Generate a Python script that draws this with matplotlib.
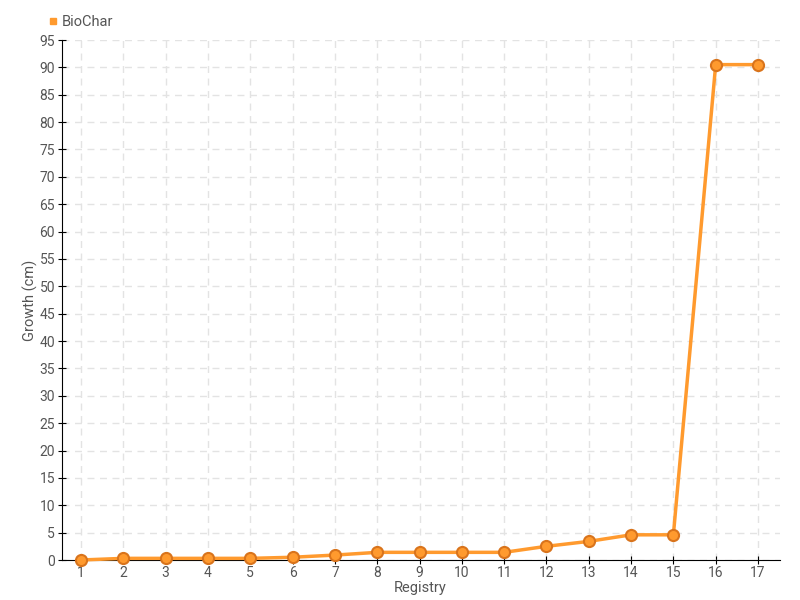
import matplotlib
matplotlib.use("Agg")
import matplotlib.pyplot as plt
from matplotlib.lines import Line2D

registry = list(range(1, 18))
growth = [0.0, 0.3, 0.3, 0.3, 0.3, 0.5, 0.9, 1.4, 1.4, 1.4, 1.4, 2.5, 3.4, 4.6, 4.6, 90.5, 90.5]
series_name = "BioChar"
y_ticks = list(range(0, 100, 5))

plt.rcParams['font.family'] = ['Roboto', 'DejaVu Sans']
text_color = '#555555'
line_color = '#ff9a2e'
edge_color = '#d9741c'

fig = plt.figure(figsize=(8, 6), dpi=100)
ax = fig.add_axes([62/800, 40/600, (780-62)/800, (560-40)/600])

ax.plot(registry, growth, color=line_color, lw=2.5, marker='o', ms=8,
        markerfacecolor=line_color, markeredgecolor=edge_color, markeredgewidth=1.5,
        zorder=3, clip_on=False)

ax.set_xlim(0.55, 17.52)
ax.set_ylim(0, 95)
ax.set_xticks(registry)
ax.set_xticklabels([str(r) for r in registry])
ax.set_yticks(y_ticks)

ax.grid(True, color='#e3e3e3', linestyle=(0, (5, 4)), linewidth=1)
ax.set_axisbelow(True)
for s in ['top', 'right']:
    ax.spines[s].set_visible(False)
ax.spines['left'].set_color('#000000')
ax.spines['bottom'].set_color('#000000')
ax.tick_params(axis='both', direction='inout', length=6, colors='#000000', labelcolor=text_color, labelsize=10, pad=2)
ax.tick_params(axis='x', pad=1)

ax.set_xlabel('Registry', color=text_color, fontsize=10.5)
ax.set_ylabel('Growth (cm)', color=text_color, fontsize=10.5)
ax.xaxis.set_label_coords((420-62)/718, -(588-560)/520)
ax.yaxis.set_label_coords(-(62-30)/718, 0.5)
ax.xaxis.label.set_va('center')
ax.yaxis.label.set_va('center')

handle = Line2D([], [], color=line_color, marker='s', ms=5, linestyle='None')
fig.legend([handle], [series_name], loc='center left', bbox_to_anchor=(46/800, 1 - 22/600),
           frameon=False, fontsize=10.5, handletextpad=0.1, labelcolor=text_color,
           handlelength=1, borderaxespad=0, borderpad=0)

fig.savefig('out.png', dpi=100)
